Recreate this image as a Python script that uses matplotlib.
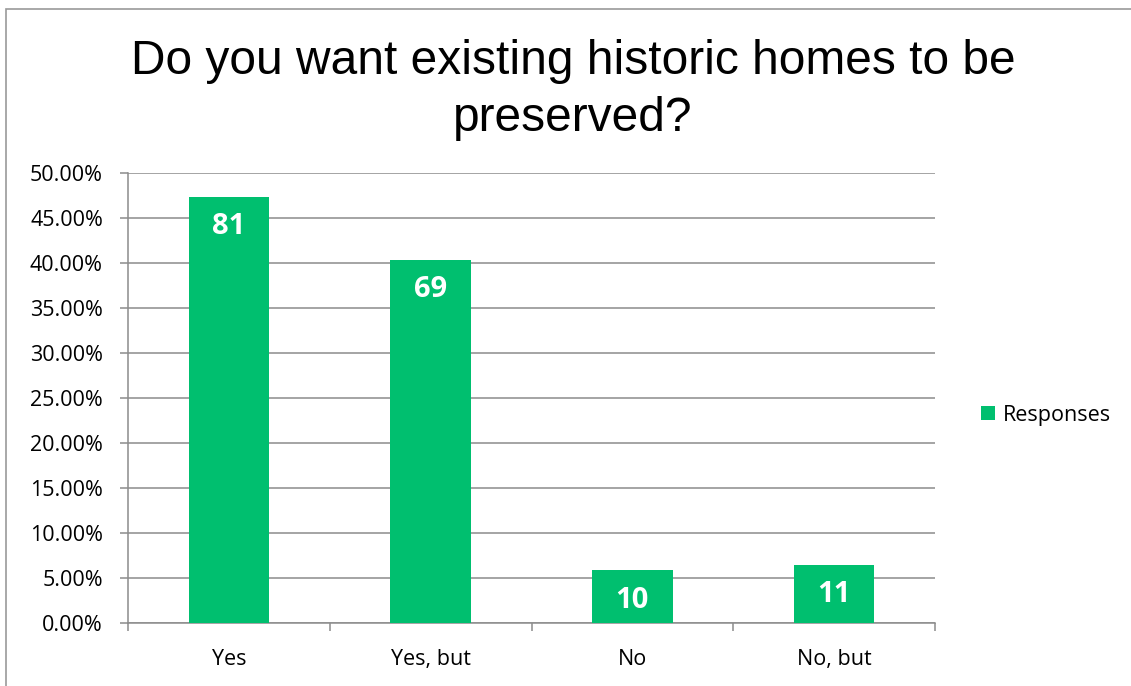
import matplotlib
matplotlib.use("Agg")
import matplotlib.pyplot as plt
from matplotlib.patches import Rectangle
from matplotlib.ticker import PercentFormatter, FixedLocator

categories = ["Yes", "Yes, but", "No", "No, but"]
counts = [81, 69, 10, 11]
total = sum(counts)
shares = [c / total for c in counts]

green = "#00BF6F"
grey = "#8C8C8C"

fig = plt.figure(figsize=(11.31, 6.86), dpi=100)
ax = fig.add_axes([128 / 1131, 1 - 623 / 686, 807 / 1131, 450 / 686])

x = range(len(categories))
bars = ax.bar(x, shares, width=0.4, color=green, label="Responses", zorder=3)

for b, c in zip(bars, counts):
    ax.annotate(str(c), (b.get_x() + b.get_width() / 2, b.get_height()),
                xytext=(0, -21.5), textcoords="offset points",
                ha="center", va="center", color="white",
                fontsize=21, fontweight="bold", family="Open Sans")

ax.set_xlim(-0.5, len(categories) - 0.5)
ax.set_ylim(0, 0.5)
ax.set_yticks([i * 0.05 for i in range(11)])
ax.yaxis.set_major_formatter(PercentFormatter(1.0, decimals=2))
ax.grid(axis="y", color=grey, linewidth=1.1, zorder=0)

ax.set_xticks(list(x))
ax.set_xticklabels(categories)
ax.xaxis.set_minor_locator(FixedLocator([i - 0.5 for i in range(len(categories) + 1)]))
ax.tick_params(axis="x", which="major", length=0, pad=19, labelsize=15.5)
ax.tick_params(axis="x", which="minor", length=6, width=1.1, color=grey)
ax.tick_params(axis="y", length=6, width=1.1, color=grey, pad=12, labelsize=15.5)
for lab in ax.get_xticklabels() + ax.get_yticklabels():
    lab.set_family("Open Sans")

for s in ["top", "right"]:
    ax.spines[s].set_visible(False)
for s in ["left", "bottom"]:
    ax.spines[s].set_color(grey)
    ax.spines[s].set_linewidth(1.1)

fig.text(573 / 1131, 1 - 90 / 686, "Do you want existing historic homes to be\npreserved?",
         ha="center", va="center", fontsize=34.5, family="Liberation Sans",
         linespacing=1.32)

leg = fig.legend(handles=[bars], labels=["Responses"], loc="center left",
                 bbox_to_anchor=(962 / 1131, 1 - 415 / 686), frameon=False,
                 handlelength=0.65, handleheight=0.65, handletextpad=0.35,
                 prop={"family": "Open Sans", "size": 15.5})

fig.patches.append(Rectangle((6 / 1131, -0.1), 1.2, 1 - 9 / 686 + 0.1,
                             transform=fig.transFigure, fill=False,
                             edgecolor="#999999", linewidth=1.2))

fig.savefig("out.png", dpi=100)
